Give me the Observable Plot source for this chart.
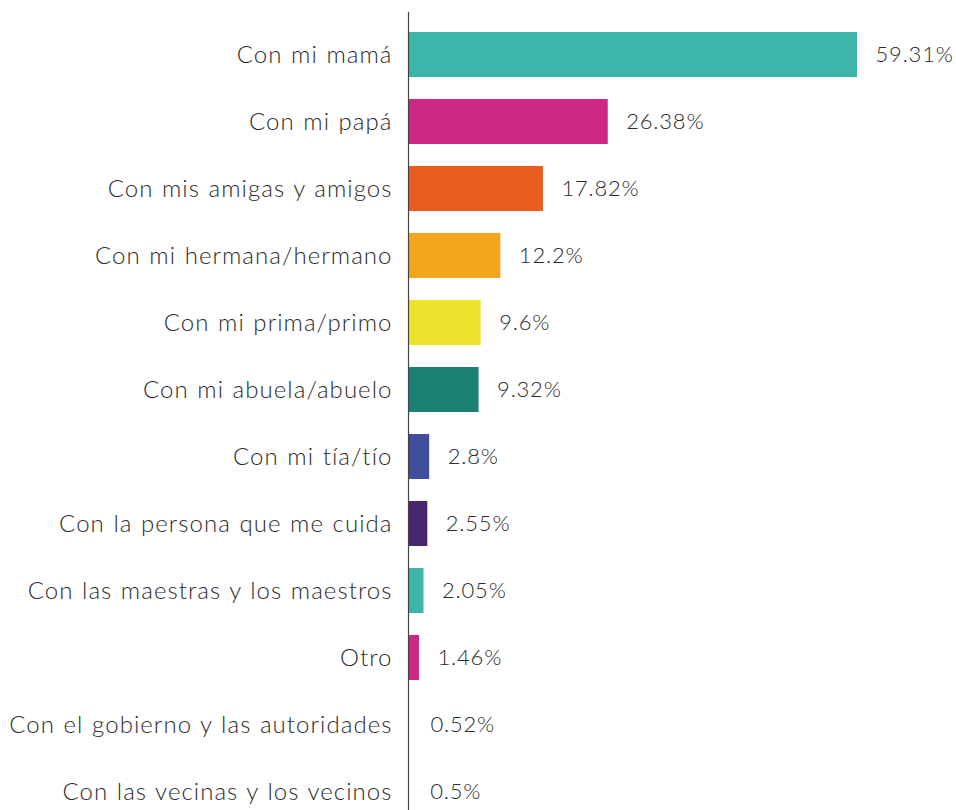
<!DOCTYPE html>
<html>
<head>
<meta charset="utf-8">
<script src="https://cdn.jsdelivr.net/npm/d3@7"></script>
<script src="https://cdn.jsdelivr.net/npm/@observablehq/plot@0.6"></script>
<style>
  html, body { margin: 0; padding: 0; background: #fff; }
  #chart svg { display: block; }
</style>
</head>
<body>
<div id="chart"></div>
<script>
const categories = [
  "Con mi mamá",
  "Con mi papá",
  "Con mis amigas y amigos",
  "Con mi hermana/hermano",
  "Con mi prima/primo",
  "Con mi abuela/abuelo",
  "Con mi tía/tío",
  "Con la persona que me cuida",
  "Con las maestras y los maestros",
  "Otro",
  "Con el gobierno y las autoridades",
  "Con las vecinas y los vecinos"
];
const values = [59.31, 26.38, 17.82, 12.2, 9.6, 9.32, 2.8, 2.55, 2.05, 1.46, 0.52, 0.5];
const valueLabels = ["59.31%", "26.38%", "17.82%", "12.2%", "9.6%", "9.32%", "2.8%", "2.55%", "2.05%", "1.46%", "0.52%", "0.5%"];
const colors = ["#3db6a9", "#cc2985", "#eb5c1f", "#f5a51b", "#efe22c", "#1a8173", "#404d9b", "#47266f", "#3db6a9", "#cc2985", "none", "none"];

const data = categories.map((c, i) => ({category: c, value: values[i], label: valueLabels[i], color: colors[i]}));

const font = "Lato, 'Open Sans', sans-serif";

const chart = Plot.plot({
  width: 956,
  height: 810,
  marginLeft: 408,
  marginRight: 18,
  marginTop: 12,
  marginBottom: 0,
  style: {fontFamily: font, background: "#fff"},
  x: {domain: [0, 70], range: [408, 938], axis: null},
  y: {domain: categories, range: [30, 815], padding: 0.331, paddingOuter: 0, axis: null},
  marks: [
    Plot.barX(data, {y: "category", x: "value", fill: "color"}),
    Plot.ruleX([0], {stroke: "#444", strokeWidth: 1.2}),
    Plot.text(data, {
      y: "category", x: 0, text: "category", textAnchor: "end", dx: -16,
      fontSize: 24, fontWeight: 300, fill: "#2b2b2b", fontFamily: font
    }),
    Plot.text(data, {
      y: "category", x: "value", text: "label", textAnchor: "start", dx: 18,
      fontSize: 22, fontWeight: 300, fill: "#2b2b2b", fontFamily: font
    })
  ]
});
const textGroups = chart.querySelectorAll('g[aria-label="text"]');
if (textGroups[0]) { textGroups[0].setAttribute("letter-spacing", "1.05"); textGroups[0].setAttribute("word-spacing", "1"); }
if (textGroups[1]) textGroups[1].setAttribute("letter-spacing", "0.8");
document.getElementById("chart").append(chart);
</script>
</body>
</html>
